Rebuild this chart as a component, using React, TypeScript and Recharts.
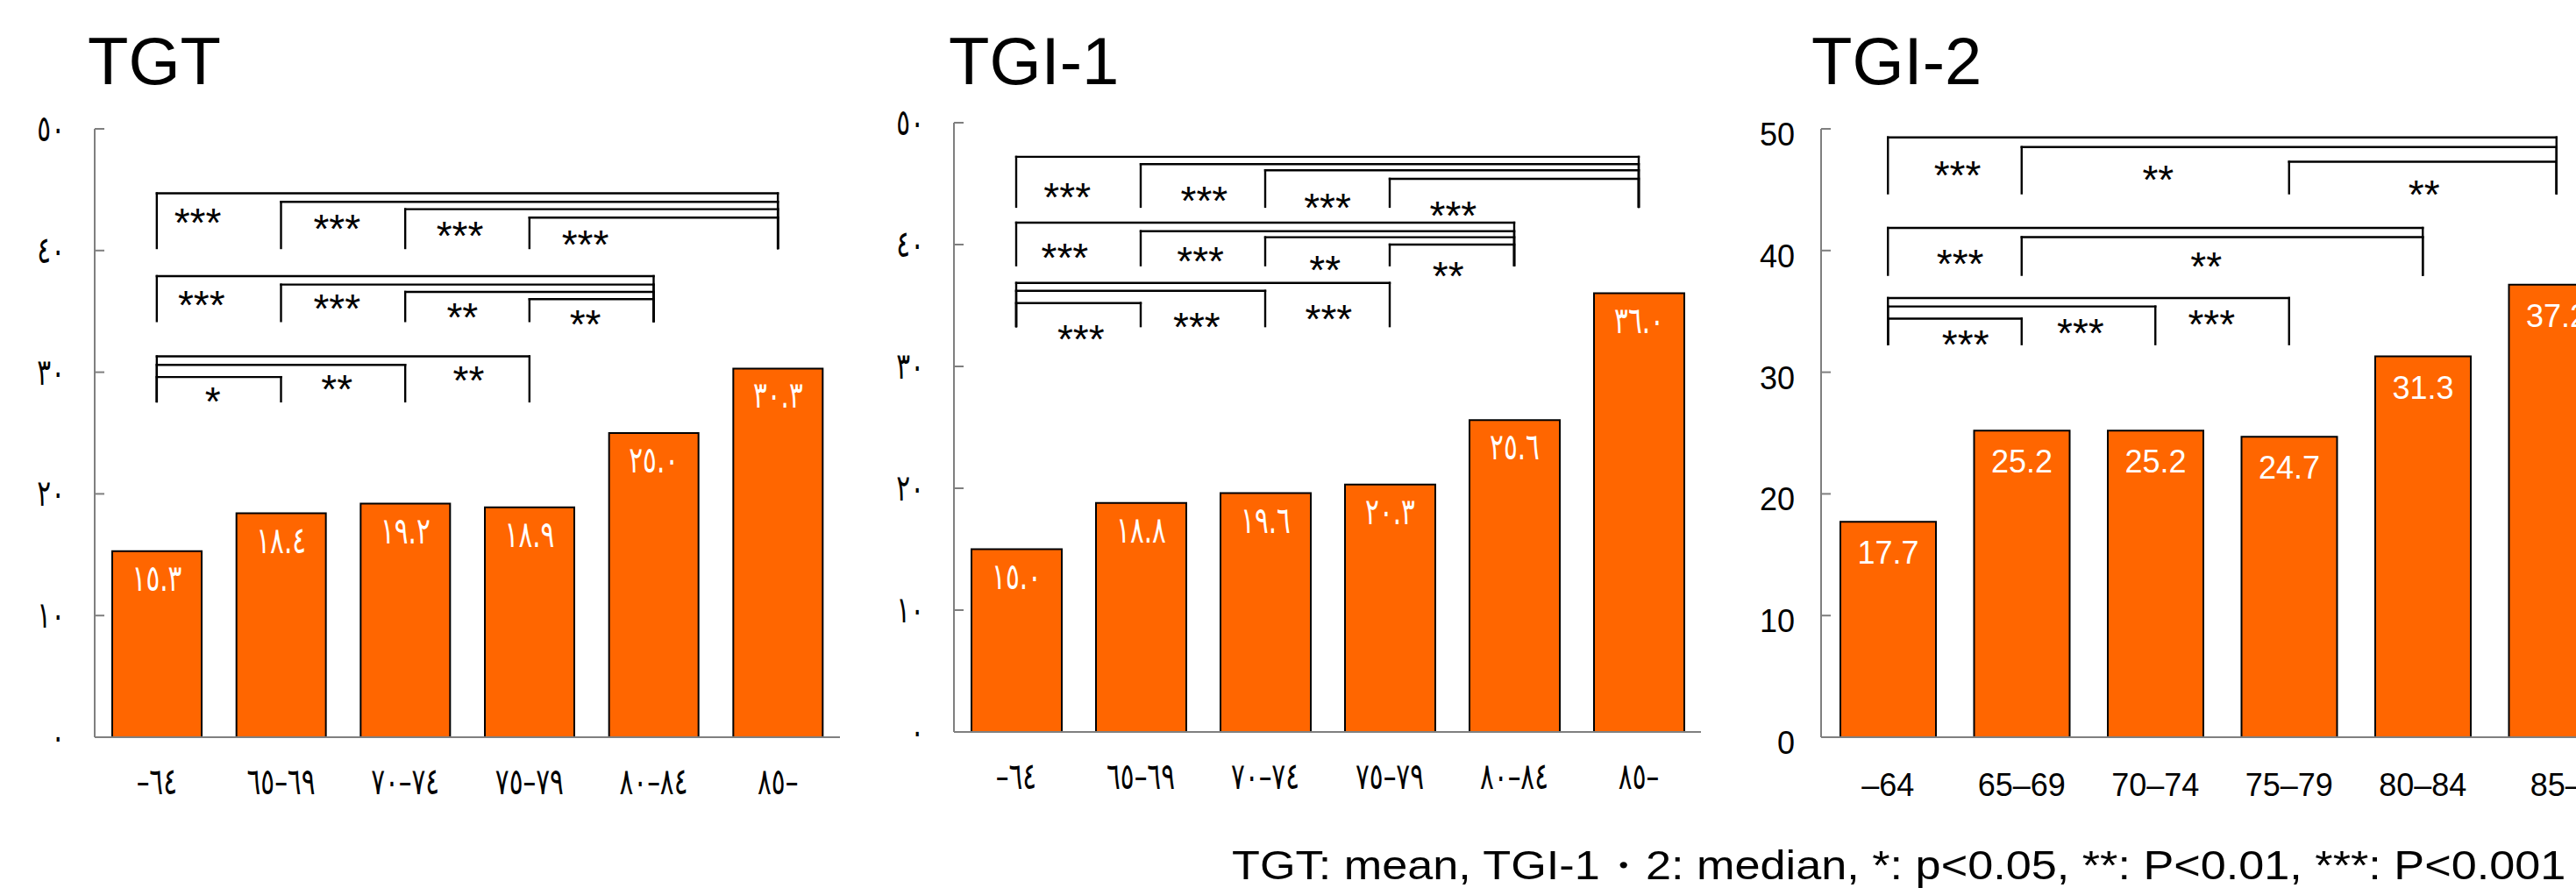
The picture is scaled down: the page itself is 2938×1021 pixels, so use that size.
import React from "react";
import {
  Bar,
  ComposedChart,
  LabelList,
  ReferenceDot,
  ReferenceLine,
  XAxis,
  YAxis,
} from "recharts";

// age bands, written twice: the first two panels use Arabic-Indic digits
const agesLatin = ["–64", "65–69", "70–74", "75–79", "80–84", "85–"];
const agesArabic = ["–٦٤", "٦٥–٦٩", "٧٠–٧٤", "٧٥–٧٩", "٨٠–٨٤", "٨٥–"];
const yTicks = [0, 10, 20, 30, 40, 50];

const tgtValues = [15.3, 18.4, 19.2, 18.9, 25.0, 30.3];
const tgi1Values = [15.0, 18.8, 19.6, 20.3, 25.6, 36.0];
const tgi2Values = [17.7, 25.2, 25.2, 24.7, 31.3, 37.2];

// significance brackets: bar index from/to, level of the bar, foot of the legs
type Bracket = { from: number; to: number; level: number; foot: number };
type Star = { at: number; level: number; text: string };

const tgtBrackets: Bracket[] = [
  { from: 0, to: 5, level: 44.7, foot: 40.2 },
  { from: 1, to: 5, level: 44.0, foot: 40.2 },
  { from: 2, to: 5, level: 43.4, foot: 40.2 },
  { from: 3, to: 5, level: 42.7, foot: 40.2 },
  { from: 0, to: 4, level: 37.9, foot: 34.2 },
  { from: 1, to: 4, level: 37.2, foot: 34.2 },
  { from: 2, to: 4, level: 36.6, foot: 34.2 },
  { from: 3, to: 4, level: 36.0, foot: 34.2 },
  { from: 0, to: 3, level: 31.3, foot: 27.6 },
  { from: 0, to: 2, level: 30.6, foot: 27.6 },
  { from: 0, to: 1, level: 29.6, foot: 27.6 },
];
const tgtStars: Star[] = [
  { at: 0.33, level: 43.1, text: "***" },
  { at: 1.45, level: 42.6, text: "***" },
  { at: 2.44, level: 42.0, text: "***" },
  { at: 3.45, level: 41.3, text: "***" },
  { at: 0.36, level: 36.3, text: "***" },
  { at: 1.45, level: 36.0, text: "***" },
  { at: 2.46, level: 35.3, text: "**" },
  { at: 3.45, level: 34.75, text: "**" },
  { at: 0.45, level: 28.4, text: "*" },
  { at: 1.45, level: 29.4, text: "**" },
  { at: 2.51, level: 30.1, text: "**" },
];

const tgi1Brackets: Bracket[] = [
  { from: 0, to: 5, level: 47.2, foot: 43.1 },
  { from: 1, to: 5, level: 46.6, foot: 43.1 },
  { from: 2, to: 5, level: 46.1, foot: 43.1 },
  { from: 3, to: 5, level: 45.4, foot: 43.1 },
  { from: 0, to: 4, level: 41.8, foot: 38.3 },
  { from: 1, to: 4, level: 41.1, foot: 38.3 },
  { from: 2, to: 4, level: 40.6, foot: 38.3 },
  { from: 3, to: 4, level: 40.0, foot: 38.3 },
  { from: 0, to: 3, level: 36.85, foot: 33.3 },
  { from: 0, to: 2, level: 36.2, foot: 33.3 },
  { from: 0, to: 1, level: 35.2, foot: 33.3 },
];
const tgi1Stars: Star[] = [
  { at: 0.41, level: 44.7, text: "***" },
  { at: 1.51, level: 44.4, text: "***" },
  { at: 2.5, level: 43.8, text: "***" },
  { at: 3.51, level: 43.2, text: "***" },
  { at: 0.39, level: 39.7, text: "***" },
  { at: 1.48, level: 39.4, text: "***" },
  { at: 2.48, level: 38.7, text: "**" },
  { at: 3.47, level: 38.2, text: "**" },
  { at: 0.52, level: 33.0, text: "***" },
  { at: 1.45, level: 34.0, text: "***" },
  { at: 2.51, level: 34.7, text: "***" },
];

const tgi2Brackets: Bracket[] = [
  { from: 0, to: 5, level: 49.3, foot: 44.7 },
  { from: 1, to: 5, level: 48.5, foot: 44.7 },
  { from: 3, to: 5, level: 47.3, foot: 44.7 },
  { from: 0, to: 4, level: 41.86, foot: 38.0 },
  { from: 1, to: 4, level: 41.1, foot: 38.0 },
  { from: 0, to: 3, level: 36.1, foot: 32.3 },
  { from: 0, to: 2, level: 35.4, foot: 32.3 },
  { from: 0, to: 1, level: 34.4, foot: 32.3 },
];
const tgi2Stars: Star[] = [
  { at: 0.52, level: 47.0, text: "***" },
  { at: 2.02, level: 46.6, text: "**" },
  { at: 4.01, level: 45.4, text: "**" },
  { at: 0.54, level: 39.7, text: "***" },
  { at: 2.38, level: 39.5, text: "**" },
  { at: 0.58, level: 33.1, text: "***" },
  { at: 1.44, level: 34.0, text: "***" },
  { at: 2.42, level: 34.7, text: "***" },
];

const footnote =
  "TGT: mean, TGI-1・2: median, *: p<0.05, **: P<0.01, ***: P<0.001";

const LATIN = "'Liberation Sans', Arial, Helvetica, sans-serif";
const ARABIC = "'DejaVu Sans Condensed', 'DejaVu Sans', sans-serif";
const ORANGE = "#ff6600";
const AXIS = "#7f7f7f";
const LTR = { direction: "ltr" as const, unicodeBidi: "bidi-override" as const };
const TOP_PAD = 45;

const toArabic = (s: string) =>
  s.replace(/[0-9]/g, (d) => "٠١٢٣٤٥٦٧٨٩"[Number(d)]);

// one label: Latin text as is, Arabic-Indic text tall and narrow
function Label({
  x,
  y,
  arabic,
  anchor,
  fill,
  children,
}: {
  x: number;
  y: number;
  arabic: boolean;
  anchor: "start" | "middle" | "end";
  fill: string;
  children: string;
}) {
  if (!arabic) {
    return (
      <text x={x} y={y} textAnchor={anchor} fontFamily={LATIN} fontSize={36} fill={fill}>
        {children}
      </text>
    );
  }
  return (
    <text
      transform={`translate(${x} ${y}) scale(0.78 1)`}
      textAnchor={anchor}
      fontFamily={ARABIC}
      fontSize={42}
      fill={fill}
      style={LTR}
    >
      {children}
    </text>
  );
}

type Panel = {
  title: string;
  values: number[];
  ages: string[];
  arabic: boolean;
  brackets: Bracket[];
  stars: Star[];
  axisX: number;
  top: number;
  zero: number;
  plotW: number;
  barSize: number;
  titleX: number;
};

const panels: Panel[] = [
  {
    title: "TGT",
    values: tgtValues,
    ages: agesArabic,
    arabic: true,
    brackets: tgtBrackets,
    stars: tgtStars,
    axisX: 108,
    top: 147,
    zero: 841,
    plotW: 850,
    barSize: 102,
    titleX: 100,
  },
  {
    title: "TGI-1",
    values: tgi1Values,
    ages: agesArabic,
    arabic: true,
    brackets: tgi1Brackets,
    stars: tgi1Stars,
    axisX: 1088,
    top: 140,
    zero: 835,
    plotW: 852,
    barSize: 103,
    titleX: 1082,
  },
  {
    title: "TGI-2",
    values: tgi2Values,
    ages: agesLatin,
    arabic: false,
    brackets: tgi2Brackets,
    stars: tgi2Stars,
    axisX: 2077,
    top: 147,
    zero: 841,
    plotW: 915,
    barSize: 109,
    titleX: 2066,
  },
];

function PanelChart({ p }: { p: Panel }) {
  const data = p.values.map((v, i) => ({ age: p.ages[i], v, i }));
  const plotH = p.zero - p.top;
  const fmt = (s: string) => (p.arabic ? toArabic(s) : s);

  const xTick = (t: any) => (
    <Label x={t.x} y={t.y + (p.arabic ? 65 : 67)} arabic={p.arabic} anchor="middle" fill="#000">
      {t.payload.value}
    </Label>
  );

  const yTick = (t: any) => (
    <g>
      <line x1={t.x} x2={t.x + 11} y1={t.y} y2={t.y} stroke={AXIS} strokeWidth={2} />
      <Label
        x={t.x - (p.arabic ? 34 : 30)}
        y={t.y + (p.arabic ? 14 : 19)}
        arabic={p.arabic}
        anchor="end"
        fill="#000"
      >
        {fmt(String(t.payload.value))}
      </Label>
    </g>
  );

  const barLabel = (l: any) => (
    <Label
      x={l.x + l.width / 2}
      y={l.y + (p.arabic ? 45 : 48)}
      arabic={p.arabic}
      anchor="middle"
      fill="#fff"
    >
      {fmt(Number(l.value).toFixed(1))}
    </Label>
  );

  return (
    <div style={{ position: "absolute", left: p.axisX - 100, top: p.top - TOP_PAD }}>
      <ComposedChart
        width={100 + p.plotW + 10}
        height={TOP_PAD + plotH + 100}
        data={data}
        margin={{ top: TOP_PAD, right: 10, bottom: 0, left: 0 }}
      >
        <XAxis
          xAxisId="c"
          dataKey="age"
          type="category"
          height={100}
          interval={0}
          tickLine={false}
          tickSize={0}
          tickMargin={0}
          axisLine={{ stroke: AXIS, strokeWidth: 2 }}
          tick={xTick}
        />
        <XAxis
          xAxisId="n"
          dataKey="i"
          type="number"
          domain={[-0.5, 5.5]}
          allowDataOverflow
          hide
        />
        <YAxis
          domain={[0, 50]}
          ticks={yTicks}
          interval={0}
          width={100}
          tickLine={false}
          tickSize={0}
          tickMargin={0}
          axisLine={{ stroke: AXIS, strokeWidth: 2 }}
          tick={yTick}
        />
        <Bar
          xAxisId="c"
          dataKey="v"
          fill={ORANGE}
          stroke="#000"
          strokeWidth={2}
          barSize={p.barSize}
          isAnimationActive={false}
        >
          <LabelList dataKey="v" content={barLabel} />
        </Bar>
        {p.brackets.flatMap((b, k) => [
          <ReferenceLine
            key={`l${k}`}
            xAxisId="n"
            ifOverflow="visible"
            stroke="#000"
            strokeWidth={2.4}
            strokeLinecap="square"
            segment={[
              { x: b.from, y: b.foot },
              { x: b.from, y: b.level },
            ]}
          />,
          <ReferenceLine
            key={`t${k}`}
            xAxisId="n"
            ifOverflow="visible"
            stroke="#000"
            strokeWidth={2.4}
            strokeLinecap="square"
            segment={[
              { x: b.from, y: b.level },
              { x: b.to, y: b.level },
            ]}
          />,
          <ReferenceLine
            key={`r${k}`}
            xAxisId="n"
            ifOverflow="visible"
            stroke="#000"
            strokeWidth={2.4}
            strokeLinecap="square"
            segment={[
              { x: b.to, y: b.level },
              { x: b.to, y: b.foot },
            ]}
          />,
        ])}
        {p.stars.map((s, k) => (
          <ReferenceDot
            key={`s${k}`}
            xAxisId="n"
            x={s.at}
            y={s.level}
            r={0}
            ifOverflow="visible"
            shape={(d: any) => (
              <text
                x={d.cx}
                y={d.cy + 27}
                textAnchor="middle"
                fontFamily={LATIN}
                fontSize={46}
                fill="#000"
              >
                {s.text}
              </text>
            )}
          />
        ))}
      </ComposedChart>
    </div>
  );
}

export default function App() {
  return (
    <div
      style={{
        position: "absolute",
        left: 0,
        top: 0,
        width: 2938,
        height: 1021,
        overflow: "hidden",
        background: "#fff",
      }}
    >
      {panels.map((p) => (
        <div
          key={p.title}
          style={{
            position: "absolute",
            left: p.titleX,
            top: 32,
            fontFamily: LATIN,
            fontSize: 76,
            lineHeight: "76px",
            whiteSpace: "nowrap",
          }}
        >
          {p.title}
        </div>
      ))}
      {panels.map((p) => (
        <PanelChart key={p.title} p={p} />
      ))}
      <div
        style={{
          position: "absolute",
          right: 12,
          top: 964,
          fontFamily: LATIN,
          fontSize: 46,
          lineHeight: "46px",
          whiteSpace: "nowrap",
          transform: "scaleX(1.135)",
          transformOrigin: "right center",
        }}
      >
        {footnote}
      </div>
    </div>
  );
}
